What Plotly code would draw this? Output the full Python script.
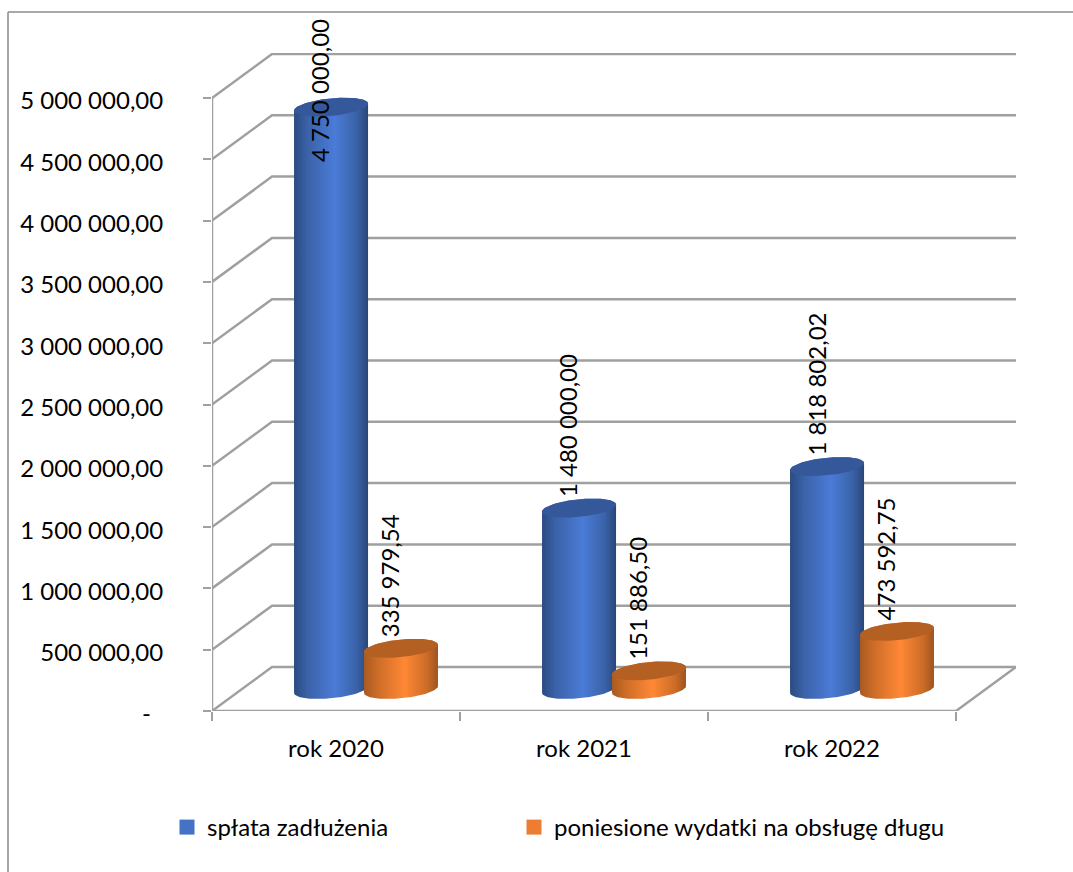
import numpy as np
import plotly.graph_objects as go

categories = ["rok 2020", "rok 2021", "rok 2022"]
series_names = ["spłata zadłużenia", "poniesione wydatki na obsługę długu"]
splata = [4750000.00, 1480000.00, 1818802.02]
wydatki = [335979.54, 151886.50, 473592.75]
y_ticks = [0, 500000, 1000000, 1500000, 2000000, 2500000, 3000000, 3500000, 4000000, 4500000, 5000000]
y_labels = ["-\u00a0\u00a0", "500 000,00", "1 000 000,00", "1 500 000,00", "2 000 000,00",
            "2 500 000,00", "3 000 000,00", "3 500 000,00", "4 000 000,00", "4 500 000,00", "5 000 000,00"]

W, H = 1073, 872
L, T, R, B = 212, 53, 1016, 711          # plot box in pixels
PX_X = 248.0                              # pixels per category
PX_Y = 613.0 / 5000000                    # pixels per value unit
DX = 60 / PX_X                            # depth shift of the back wall
DY = 44 / PX_Y
x_max = (R - L) / PX_X
y_max = (B - T) / PX_Y

BASE = 21.5 / PX_Y
RAD = 37.0 / PX_X
ELL_B = 8.8 / PX_Y
ELL_S = 3.5 / PX_Y
OFFS = [0.48, 0.762]
LABEL_DX = -11.5 / PX_X
LABEL_GAP = 11 / PX_Y
LABEL_CLAMP = 4478000
FONT = "Lato"
FS = 24


def fmt(v):
    s = f"{v:,.2f}"
    return s.replace(",", " ").replace(".", ",")


def arc(cx, cy, t0, t1, n=50):
    t = np.linspace(t0, t1, n)
    return cx + RAD * np.cos(t), cy + ELL_S * np.cos(t) + ELL_B * np.sin(t)


fig = go.Figure()

gx, gy = [], []
for v in y_ticks:
    gx += [0, DX, x_max, None]
    gy += [v, v + DY, v + DY, None]
GRID = "#A0A0A0"
fig.add_trace(go.Scatter(x=gx, y=gy, mode="lines", line=dict(color=GRID, width=2.5), showlegend=False, hoverinfo="skip"))
n_cat = len(categories)
fig.add_trace(go.Scatter(x=[0, 0, n_cat, x_max], y=[y_ticks[-1], 0, 0, DY], mode="lines",
                         line=dict(color=GRID, width=2.5), showlegend=False, hoverinfo="skip", cliponaxis=False))

styles = [
    dict(top="#35589A", scale=[[0, "#2B4A80"], [0.18, "#3A62A8"], [0.55, "#4A7BD6"], [0.85, "#3A62A8"], [1, "#2A4678"]]),
    dict(top="#B46023", scale=[[0, "#A85A20"], [0.18, "#CC6C28"], [0.55, "#FF8835"], [0.85, "#CC6C28"], [1, "#9E5420"]]),
]

for i in range(n_cat):
    for s, vals in enumerate([splata, wydatki]):
        cx = i + OFFS[s]
        top = vals[i] + BASE
        bx, by = arc(cx, BASE, np.pi, 2 * np.pi)
        tx, ty = arc(cx, top, 0, np.pi)
        fig.add_trace(go.Scatter(
            x=np.concatenate([bx, tx, bx[:1]]), y=np.concatenate([by, ty, by[:1]]),
            mode="lines", line=dict(width=0, color=styles[s]["top"]), fill="toself",
            fillgradient=dict(type="horizontal", colorscale=styles[s]["scale"]),
            showlegend=False, hoverinfo="skip"))
        ex, ey = arc(cx, top, 0, 2 * np.pi, 100)
        fig.add_trace(go.Scatter(
            x=ex, y=ey, mode="lines", line=dict(width=0, color=styles[s]["top"]), fill="toself",
            fillcolor=styles[s]["top"], showlegend=False, hoverinfo="skip"))
        fig.add_annotation(
            x=cx + LABEL_DX, y=min(top + LABEL_GAP, LABEL_CLAMP), text=fmt(vals[i]), textangle=-90,
            showarrow=False, xanchor="center", yanchor="bottom", borderpad=0, borderwidth=0,
            font=dict(family=FONT, size=FS, color="#000000"))

for name, col, lg in zip(series_names, ["#4472C4", "#ED7D31"], ["legend", "legend2"]):
    fig.add_trace(go.Scatter(x=[None], y=[None], mode="markers", name=name, legend=lg,
                             marker=dict(symbol="square", size=15, color=col)))

PAPER_X = lambda px: (px - L) / (R - L)
PAPER_Y = lambda py: (B - py) / (B - T)
FRAME = "#A6A6A6"
fig.add_shape(type="line", xref="paper", yref="paper", x0=PAPER_X(8), x1=PAPER_X(8), y0=PAPER_Y(12), y1=PAPER_Y(872),
              line=dict(color=FRAME, width=2))
fig.add_shape(type="line", xref="paper", yref="paper", x0=PAPER_X(8), x1=PAPER_X(1073), y0=PAPER_Y(12), y1=PAPER_Y(12),
              line=dict(color="#8C8C8C", width=1.5))

legend_style = dict(orientation="h", xanchor="left", y=PAPER_Y(805), yanchor="top",
                    font=dict(family=FONT, size=FS), bgcolor="rgba(0,0,0,0)",
                    itemclick=False, itemdoubleclick=False)

fig.update_layout(
    width=W, height=H, margin=dict(l=L, r=W - R, t=T, b=H - B, pad=0, autoexpand=False),
    paper_bgcolor="white", plot_bgcolor="white",
    font=dict(family=FONT, size=FS, color="#000000"),
    showlegend=True,
    legend=dict(x=PAPER_X(167), **legend_style),
    legend2=dict(x=PAPER_X(514), **legend_style),
    xaxis=dict(range=[0, x_max], showgrid=False, zeroline=False, showline=False,
               tickmode="array", tickvals=[i + 0.5 for i in range(n_cat)], ticktext=categories, ticks="",
               minor=dict(tickmode="array", tickvals=list(range(n_cat + 1)), ticks="outside", ticklen=9, tickcolor=GRID, tickwidth=2, showgrid=False),
               ticklabelstandoff=21),
    yaxis=dict(range=[0, y_max], showgrid=False, zeroline=False, showline=False,
               tickmode="array", tickvals=y_ticks, ticktext=y_labels, ticks="outside", ticklen=8,
               tickcolor=GRID, tickwidth=2, ticklabelstandoff=35, ticklabelshift=3),
)

fig.write_html("out.html", config={"displayModeBar": False}, post_script="document.body.style.margin='0';")
